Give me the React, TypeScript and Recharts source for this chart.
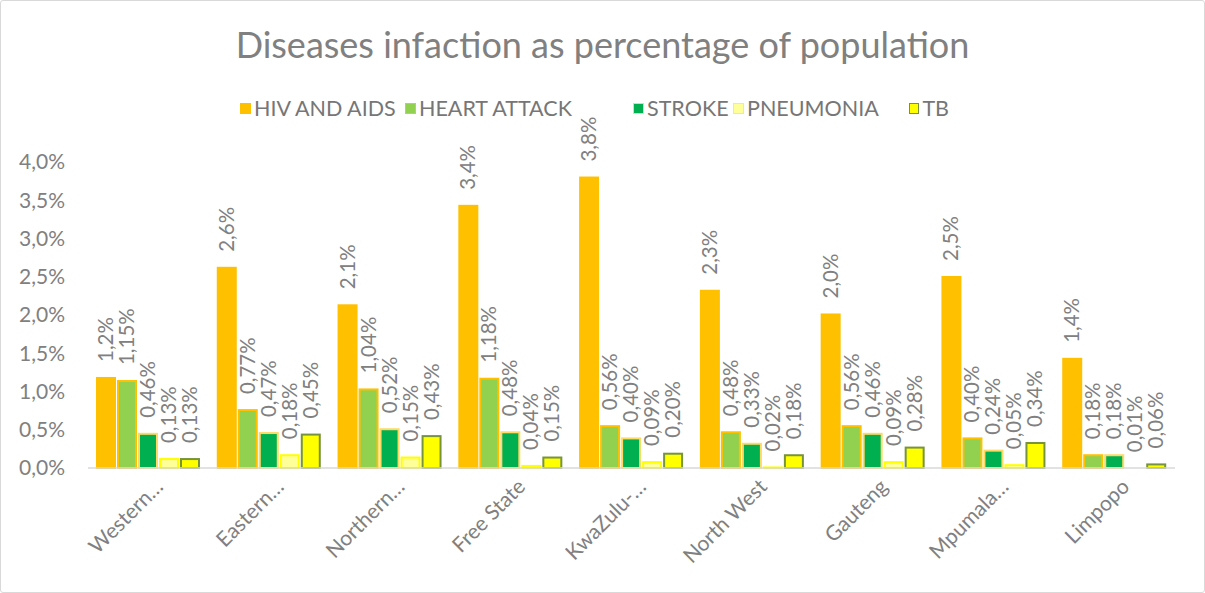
import React from "react";
import { BarChart, Bar, XAxis, YAxis, LabelList } from "recharts";

// provinces (labels truncated as in the original chart)
const provinces = [
  "Western…",
  "Eastern…",
  "Northern…",
  "Free State",
  "KwaZulu-…",
  "North West",
  "Gauteng",
  "Mpumala…",
  "Limpopo",
];

// values in percent of population
const hivAids = [1.19, 2.63, 2.14, 3.44, 3.81, 2.33, 2.02, 2.51, 1.44];
const heartAttack = [1.15, 0.77, 1.04, 1.18, 0.56, 0.48, 0.56, 0.4, 0.18];
const stroke = [0.46, 0.47, 0.52, 0.48, 0.4, 0.33, 0.46, 0.24, 0.18];
const pneumonia = [0.13, 0.18, 0.15, 0.04, 0.09, 0.02, 0.09, 0.05, 0.01];
const tb = [0.13, 0.45, 0.43, 0.15, 0.2, 0.18, 0.28, 0.34, 0.06];

const yTicks = [0, 0.5, 1, 1.5, 2, 2.5, 3, 3.5, 4];

const series = [
  { key: "hiv", name: "HIV AND AIDS", fill: "#FFC000", border: "#FFC000", digits: 1 },
  { key: "heart", name: "HEART ATTACK", fill: "#92D050", border: "#FFC000", digits: 2 },
  { key: "stroke", name: "STROKE", fill: "#00B050", border: "#FFD966", digits: 2 },
  { key: "pneumonia", name: "PNEUMONIA", fill: "#FFFF99", border: "#FFFF00", digits: 2 },
  { key: "tb", name: "TB", fill: "#FFFF00", border: "#77933C", digits: 2 },
];

// width of each legend entry (Excel spaces them unevenly)
const legendWidths = [165, 228, 100, 176, 40];

const data = provinces.map((p, i) => ({
  province: p,
  hiv: hivAids[i],
  heart: heartAttack[i],
  stroke: stroke[i],
  pneumonia: pneumonia[i],
  tb: tb[i],
}));

const FONT = "Lato, 'Open Sans', sans-serif";
const GREY = "#808080";

const fmt = (v: number, digits: number) => v.toFixed(digits).replace(".", ",") + "%";

const makeLabel = (digits: number) => (props: any) => {
  const { x, y, width, value } = props;
  const cx = Number(x) + Number(width) / 2;
  return (
    <text
      transform={`translate(${cx + 7},${Number(y) - 15}) rotate(-90)`}
      fill={GREY}
      fontSize={20.5}
      fontFamily={FONT}
      textAnchor="start"
    >
      {fmt(Number(value), digits)}
    </text>
  );
};

// bar with an inset border like the Excel original
const makeShape = (fill: string, border: string) => (props: any) => {
  const { x, y, width, height } = props;
  if (!height || height <= 0) return <g />;
  return (
    <rect
      x={x + 1}
      y={y + 1}
      width={Math.max(width - 2, 0)}
      height={Math.max(height - 1, 0)}
      fill={fill}
      stroke={border}
      strokeWidth={2}
    />
  );
};

const XTick = (props: any) => {
  const { x, y, payload } = props;
  return (
    <g transform={`translate(${x + 16},${y + 12})`}>
      <text
        transform="rotate(-45)"
        textAnchor="end"
        fill={GREY}
        fontSize={21}
        fontFamily={FONT}
      >
        {payload.value}
      </text>
    </g>
  );
};

export default function App() {
  return (
    <div
      style={{
        position: "absolute",
        left: 0,
        top: 0,
        width: 1205,
        height: 593,
        background: "#fff",
        fontFamily: FONT,
      }}
    >
      <div
        style={{
          position: "absolute",
          inset: 0,
          border: "1.5px solid #D9D9D9",
          borderRadius: 3,
          boxSizing: "border-box",
          pointerEvents: "none",
        }}
      />
      <div
        style={{
          position: "absolute",
          top: 22,
          left: 0,
          width: 1205,
          textAlign: "center",
          fontSize: 36,
          color: GREY,
        }}
      >
        Diseases infaction as percentage of population
      </div>
      <div
        style={{
          position: "absolute",
          top: 95,
          left: 240,
          display: "flex",
          alignItems: "center",
          fontSize: 21.5,
          color: "#767676",
        }}
      >
        {series.map((s, i) => (
          <div
            key={s.key}
            style={{ display: "flex", alignItems: "center", width: legendWidths[i] }}
          >
            <span
              style={{
                width: 11,
                height: 11,
                background: s.fill,
                border: `1.5px solid ${s.border}`,
                boxSizing: "border-box",
                marginRight: 3,
                display: "inline-block",
              }}
            />
            {s.name}
          </div>
        ))}
      </div>
      <BarChart
        width={1205}
        height={593}
        data={data}
        margin={{ top: 162, right: 30, bottom: 15, left: 0 }}
        barSize={20}
        barGap={1}
      >
        <XAxis
          dataKey="province"
          height={110}
          tickLine={false}
          tickSize={0}
          tickMargin={8}
          axisLine={{ stroke: "#D9D9D9", strokeWidth: 1.5 }}
          tick={<XTick />}
          interval={0}
        />
        <YAxis
          width={88}
          domain={[0, 4]}
          ticks={yTicks}
          axisLine={false}
          tickLine={false}
          tickSize={0}
          tickMargin={23}
          tickFormatter={(v: number) => fmt(v, 1)}
          tick={{ fill: GREY, fontSize: 21, fontFamily: FONT }}
        />
        {series.map((s) => (
          <Bar
            key={s.key}
            dataKey={s.key}
            name={s.name}
            fill={s.fill}
            shape={makeShape(s.fill, s.border)}
            isAnimationActive={false}
          >
            <LabelList dataKey={s.key} content={makeLabel(s.digits)} />
          </Bar>
        ))}
      </BarChart>
    </div>
  );
}
